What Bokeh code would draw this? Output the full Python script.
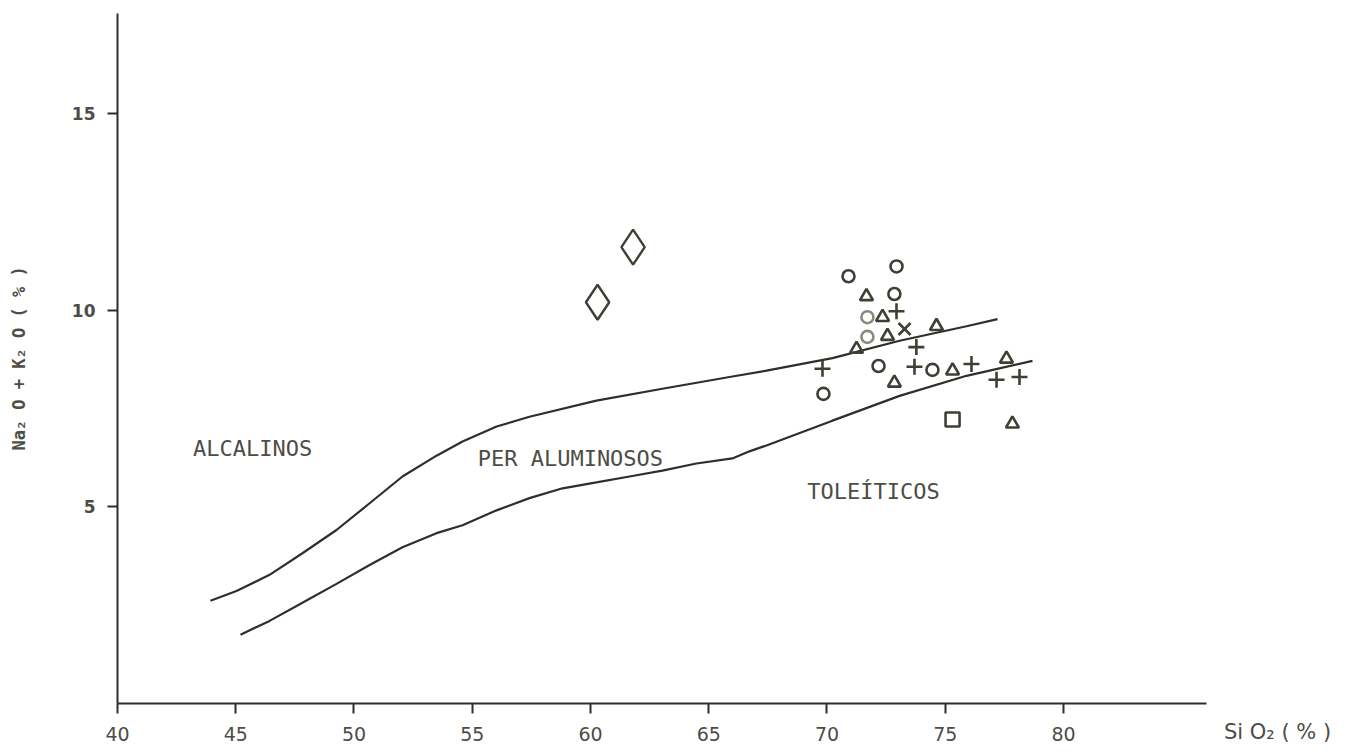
import math
from bokeh.plotting import figure
from bokeh.models import Label, FixedTicker
from bokeh.embed import file_html
from bokeh.resources import INLINE

# ---------------- data ----------------
# boundary curves (SiO2 %, Na2O+K2O %)
upper_x = [43.93, 45.03, 46.43, 47.82, 49.26, 50.66, 52.05, 53.49, 54.59, 56.03,
           57.42, 60.25, 63.04, 65.88, 67.44, 70.23, 73.07, 75.90, 77.21]
upper_y = [2.61, 2.86, 3.27, 3.82, 4.41, 5.09, 5.77, 6.30, 6.66, 7.04,
           7.29, 7.70, 8.00, 8.30, 8.46, 8.78, 9.22, 9.59, 9.77]
lower_x = [45.20, 46.43, 47.82, 49.26, 50.66, 52.05, 53.49, 54.59, 56.03, 57.42,
           58.82, 60.25, 61.65, 63.04, 64.48, 66.00, 66.72, 67.44, 70.23, 73.07,
           75.90, 78.69]
lower_y = [1.75, 2.10, 2.56, 3.04, 3.52, 3.97, 4.33, 4.53, 4.91, 5.22,
           5.47, 5.62, 5.77, 5.92, 6.10, 6.23, 6.41, 6.56, 7.19, 7.82,
           8.33, 8.71]

diamond_x = [60.3, 61.8]
diamond_y = [10.2, 11.6]
circle_x = [70.91, 72.94, 72.85, 72.18, 74.46, 69.85]
circle_y = [10.86, 11.11, 10.41, 8.58, 8.48, 7.87]
circle_gray_x = [71.71, 71.71]
circle_gray_y = [9.82, 9.32]
tri_x = [71.67, 72.35, 74.63, 72.56, 71.25, 75.31, 77.59, 72.85, 77.84]
tri_y = [10.35, 9.82, 9.59, 9.34, 9.01, 8.46, 8.76, 8.15, 7.11]
plus_x = [72.94, 73.78, 69.81, 73.70, 76.11, 77.17, 78.14]
plus_y = [9.97, 9.06, 8.51, 8.56, 8.63, 8.23, 8.30]
xmark_x = [73.28]
xmark_y = [9.52]
square_x = [75.31]
square_y = [7.22]

x_ticks = [40, 45, 50, 55, 60, 65, 70, 75, 80]
y_ticks = [5, 10, 15]

region_labels = ["ALCALINOS", "PER ALUMINOSOS", "TOLEÍTICOS"]
region_x = [45.71, 59.15, 71.97]
region_y = [6.48, 6.23, 5.39]

# ---------------- styles ----------------
INK = "#2e2e2a"
MARK = "#3f3f35"
TXT = "#4d4d46"
FONT = "DejaVu Sans"
MONO = "DejaVu Sans Mono"

p = figure(width=1340, height=746, x_range=(40, 89.05), y_range=(0, 17.54),
           output_backend="svg", toolbar_location=None,
           min_border_left=117, min_border_right=63,
           min_border_top=13, min_border_bottom=40,
           background_fill_color="white", border_fill_color="white")
p.grid.visible = False
p.outline_line_color = None

p.xaxis.ticker = FixedTicker(ticks=x_ticks)
p.yaxis.ticker = FixedTicker(ticks=y_ticks)
p.xaxis.bounds = (40, 86.05)
for ax in (p.xaxis, p.yaxis):
    ax.minor_tick_line_color = None
    ax.major_tick_in = 0
    ax.major_tick_out = 10
    ax.axis_line_width = 2
    ax.axis_line_color = INK
    ax.major_tick_line_width = 2
    ax.major_tick_line_color = INK
    ax.major_label_text_color = TXT
    ax.major_label_text_font = FONT
p.xaxis.major_label_text_font_size = "19px"
p.xaxis.major_label_standoff = 13
p.yaxis.major_label_text_font_size = "17px"
p.yaxis.major_label_text_font_style = "bold"
p.yaxis.major_label_standoff = 12
p.yaxis.major_label_orientation = "horizontal"

# axis titles
p.xaxis.axis_label = "Si O₂ ( % )"
p.xaxis.axis_label_align = "end"
p.xaxis.axis_label_standoff = -24
p.xaxis.axis_label_text_font = FONT
p.xaxis.axis_label_text_font_size = "21px"
p.xaxis.axis_label_text_font_style = "normal"
p.xaxis.axis_label_text_color = TXT

p.yaxis.axis_label = "Na₂ O + K₂ O ( % )"
p.yaxis.axis_label_standoff = 40
p.yaxis.axis_label_text_font = MONO
p.yaxis.axis_label_text_font_size = "17px"
p.yaxis.axis_label_text_font_style = "bold"
p.yaxis.axis_label_text_color = TXT

# curves
p.line(upper_x, upper_y, line_color=INK, line_width=2.2)
p.line(lower_x, lower_y, line_color=INK, line_width=2.2)

# markers
p.scatter(diamond_x, diamond_y, marker="diamond", size=35, fill_color=None,
          line_color=MARK, line_width=2.4)
p.scatter(circle_x, circle_y, marker="circle", size=12, fill_color=None,
          line_color=MARK, line_width=2.6)
p.scatter(circle_gray_x, circle_gray_y, marker="circle", size=12, fill_color=None,
          line_color="#8a8a7c", line_width=2.6)
p.scatter(tri_x, tri_y, marker="triangle", size=13, fill_color=None,
          line_color=MARK, line_width=2.6)
p.scatter(plus_x, plus_y, marker="cross", size=16, line_color=MARK, line_width=2.6)
p.scatter(xmark_x, xmark_y, marker="x", size=17, line_color=MARK, line_width=2.6)
p.scatter(square_x, square_y, marker="square", size=14, fill_color=None,
          line_color=MARK, line_width=2.6)

# region labels
for t, x, y in zip(region_labels, region_x, region_y):
    p.add_layout(Label(x=x, y=y, text=t, text_align="center", text_baseline="middle",
                       text_font=MONO, text_font_size="22px", text_color=TXT))

open("out.html", "w").write(file_html(p, INLINE))
